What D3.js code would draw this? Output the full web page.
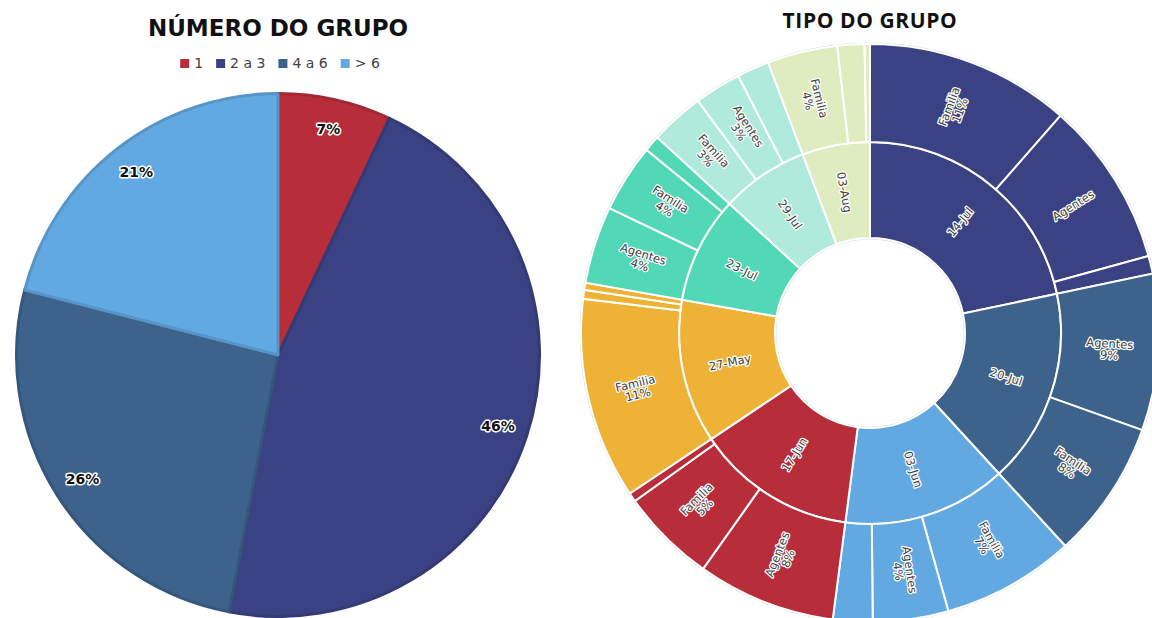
<!DOCTYPE html>
<html>
<head>
<meta charset="utf-8">
<script src="https://cdn.jsdelivr.net/npm/d3@7"></script>
<style>
  body { margin: 0; background: #fff; }
  svg { display: block; }
</style>
</head>
<body>
<svg id="chart" width="1152" height="618"></svg>
<script>
const d3 = window.d3;

// Número do grupo (pizza)
const faixas = ["1", "2 a 3", "4 a 6", "> 6"];
const faixaPct = [7, 46, 26, 21];
const faixaCores = ["#B72D3A", "#3A4283", "#3D628B", "#62A9E2"];

// Tipo do grupo (sunburst): datas no anel interno, tipos no anel externo
const datas = ["14-Jul", "20-Jul", "03-Jun", "17-Jun", "27-May", "23-Jul", "29-Jul", "03-Aug"];
const dataCores = ["#3A4283", "#3D628B", "#62A9E2", "#B72D3A", "#EEB336", "#52D8B7", "#B0EADC", "#DFECBF"];
const tipos = [
  ["Familia", "Agentes", "Outros"],
  ["Agentes", "Familia"],
  ["Familia", "Agentes", "Outros"],
  ["Agentes", "Familia", "Outros"],
  ["Familia", "Outros", "Outros"],
  ["Agentes", "Familia", "Outros"],
  ["Familia", "Agentes", "Outros"],
  ["Familia", "Outros", "Outros"]
];
const tipoPct = [
  [11.4, 9.2, 1.0],
  [8.7, 7.7],
  [7.4, 4.2, 2.2],
  [7.7, 5.3, 0.5],
  [11.2, 0.5, 0.4],
  [4.3, 3.8, 0.9],
  [3.0, 2.6, 1.8],
  [3.9, 1.5, 0.3]
];
// rótulos que o gráfico original mostra sem percentual
const semPercentual = ["14-Jul|Agentes"];

const svg = d3.select("#chart");
const fonte = "'DejaVu Sans', sans-serif";

// ---------- pizza da esquerda ----------
const pizza = { cx: 278, cy: 355, r: 263 };

svg.append("text")
  .attr("x", pizza.cx).attr("y", 36)
  .attr("text-anchor", "middle")
  .style("font-family", fonte).style("font-weight", "bold").style("font-size", "23px")
  .attr("fill", "#111")
  .text("NÚMERO DO GRUPO");

// legenda
const legenda = svg.append("g");
let lx = 0;
faixas.forEach((f, i) => {
  const item = legenda.append("g").attr("transform", `translate(${lx},0)`);
  item.append("rect").attr("x", 0).attr("y", -9).attr("width", 9).attr("height", 9).attr("fill", faixaCores[i]);
  const t = item.append("text").attr("x", 14).attr("y", 0)
    .style("font-family", fonte).style("font-size", "14px").attr("fill", "#404040")
    .text(f);
  lx += 14 + t.node().getComputedTextLength() + 13;
});
legenda.attr("transform", `translate(${pizza.cx + 2 - (lx - 13) / 2},68)`);

const gPizza = svg.append("g").attr("transform", `translate(${pizza.cx},${pizza.cy})`);
const fatias = d3.pie().sort(null).value(d => d)(faixaPct);
const arcoPizza = d3.arc().innerRadius(0).outerRadius(pizza.r - 1.5);
const arcoRotulo = d3.arc().innerRadius(pizza.r * 0.88).outerRadius(pizza.r * 0.88);

gPizza.selectAll("path")
  .data(fatias)
  .join("path")
  .attr("d", arcoPizza)
  .attr("fill", (d, i) => faixaCores[i])
  .attr("stroke", (d, i) => d3.color(faixaCores[i]).darker(0.35))
  .attr("stroke-width", 3)
  .attr("stroke-linejoin", "round");

gPizza.selectAll("text")
  .data(fatias)
  .join("text")
  .attr("transform", d => `translate(${arcoRotulo.centroid(d)})`)
  .attr("text-anchor", "middle")
  .attr("dy", "0.35em")
  .style("font-family", fonte).style("font-weight", "bold").style("font-size", "14px")
  .attr("fill", "#111")
  .attr("stroke", "#fff").attr("stroke-width", 3).attr("paint-order", "stroke")
  .attr("stroke-linejoin", "round")
  .text(d => d.data + "%");

// ---------- sunburst da direita ----------
const sol = { cx: 870, cy: 333 };
const raio = d3.scaleLinear().domain([1, 2, 3]).range([95, 191, 289]);

svg.append("text")
  .attr("x", sol.cx).attr("y", 28)
  .attr("text-anchor", "middle")
  .style("font-family", "'Open Sans', sans-serif").style("font-weight", "bold").style("font-size", "21px")
  .style("letter-spacing", "0.6px")
  .attr("fill", "#111")
  .text("TIPO DO GRUPO");

const arvore = {
  name: "total",
  children: datas.map((d, i) => ({
    name: d,
    cor: dataCores[i],
    children: tipos[i].map((t, j) => ({ name: t, value: tipoPct[i][j] }))
  }))
};
const raiz = d3.hierarchy(arvore).sum(d => d.value || 0);
d3.partition().size([2 * Math.PI, 3])(raiz);
const total = raiz.value;

const gSol = svg.append("g").attr("transform", `translate(${sol.cx},${sol.cy})`);
const arcoSol = d3.arc()
  .startAngle(d => d.x0).endAngle(d => d.x1)
  .innerRadius(d => raio(d.y0)).outerRadius(d => raio(d.y1));

const nos = raiz.descendants().filter(d => d.depth > 0);
const corDe = d => (d.depth === 1 ? d.data.cor : d.parent.data.cor);

gSol.append("circle").attr("r", raio(3) + 0.5).attr("fill", "none").attr("stroke", "#d0d0d0").attr("stroke-width", 1.5);
gSol.append("circle").attr("r", raio(1) - 0.5).attr("fill", "none").attr("stroke", "#d0d0d0").attr("stroke-width", 1.5);

gSol.selectAll("path")
  .data(nos)
  .join("path")
  .attr("d", arcoSol)
  .attr("fill", corDe)
  .attr("stroke", "#fff")
  .attr("stroke-width", 2);

const rotulados = nos.filter(d => d.depth === 1 || d.data.name !== "Outros");
const rotulos = gSol.selectAll("text")
  .data(rotulados)
  .join("text")
  .attr("transform", d => {
    const a = (d.x0 + d.x1) / 2 * 180 / Math.PI;
    const r = (raio(d.y0) + raio(d.y1)) / 2;
    return `rotate(${a - 90}) translate(${r},0) rotate(${a < 180 ? 0 : 180})`;
  })
  .attr("text-anchor", "middle")
  .style("font-family", fonte).style("font-size", "11.5px")
  .attr("fill", "#404040")
  .attr("stroke", "#fff").attr("stroke-width", 2.5).attr("paint-order", "stroke")
  .attr("stroke-linejoin", "round");

rotulos.each(function (d) {
  const t = d3.select(this);
  const comPct = d.depth === 2 && !semPercentual.includes(d.parent.data.name + "|" + d.data.name);
  if (comPct) {
    t.append("tspan").attr("x", 0).attr("y", "-0.15em").text(d.data.name);
    t.append("tspan").attr("x", 0).attr("y", "0.85em").text(Math.round(d.value / total * 100) + "%");
  } else {
    t.append("tspan").attr("x", 0).attr("y", "0.35em").text(d.data.name);
  }
});
</script>
</body>
</html>
